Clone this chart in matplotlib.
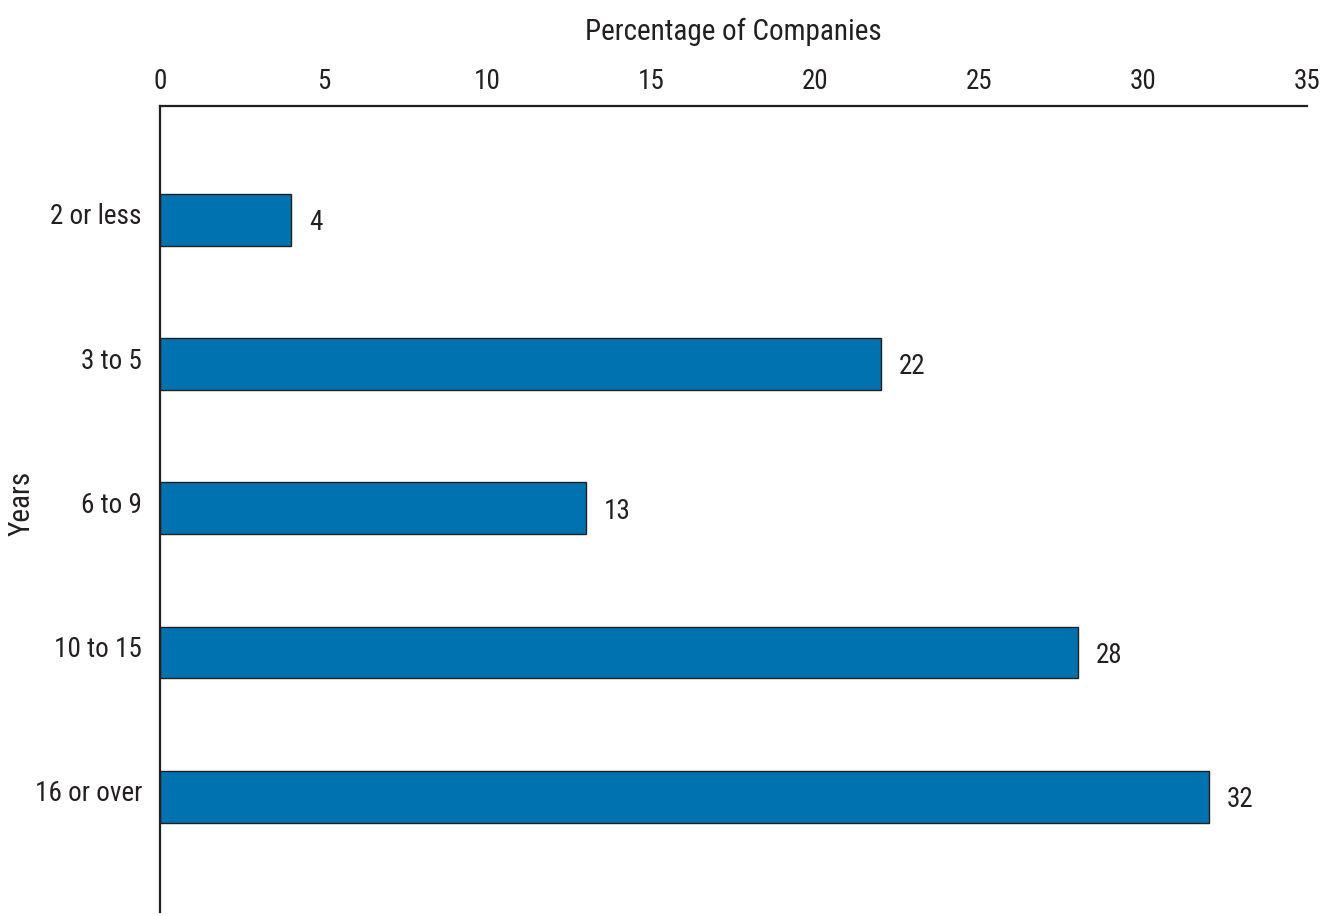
import matplotlib
matplotlib.use("Agg")
import matplotlib.pyplot as plt
from matplotlib import font_manager
from matplotlib.transforms import ScaledTranslation

categories = ["2 or less", "3 to 5", "6 to 9", "10 to 15", "16 or over"]
percentages = [4, 22, 13, 28, 32]
x_ticks = [0, 5, 10, 15, 20, 25, 30, 35]


def pick_condensed_font():
    """Return a narrow regular font file if one is installed, else None."""
    prefs = ["robotocondensed", "liberationsansnarrow", "dejavusanscondensed",
             "opensanscondensed", "notosanscondensed"]
    found = {}
    for f in font_manager.fontManager.ttflist:
        base = f.fname.replace("\\", "/").split("/")[-1].lower()
        key = base.replace("-", "").replace("_", "").replace(" ", "")
        if f.style != "normal" or f.weight not in (400, "normal", "regular"):
            continue
        for p in prefs:
            if key.startswith(p) and ("bold" not in key and "italic" not in key
                                      and "oblique" not in key and "light" not in key):
                found.setdefault(p, f.fname)
    for p in prefs:
        if p in found:
            return found[p]
    return None


narrow_file = pick_condensed_font()
if narrow_file:
    font_manager.fontManager.addfont(narrow_file)
    fam = font_manager.FontProperties(fname=narrow_file).get_name()
    plt.rcParams["font.family"] = [fam, "DejaVu Sans"]
    plt.rcParams["font.stretch"] = "condensed"
    size_scale = 1.0
else:
    plt.rcParams["font.family"] = ["DejaVu Sans"]
    size_scale = 0.8

bar_color = "#0072B0"
ink = "#231F20"
fs = 19.5 * size_scale
fs_title = 21 * size_scale

fig = plt.figure(figsize=(13.35, 9.16), dpi=100)
ax = fig.add_axes([160 / 1335, 4 / 916, (1307 - 160) / 1335, (912 - 106) / 916])

ypos = list(range(len(categories)))
ax.barh(ypos, percentages, height=0.36, color=bar_color,
        edgecolor=ink, linewidth=1.0)

for y, v in zip(ypos, percentages):
    ax.annotate(f"{v}", xy=(v, y), xytext=(13, -2), textcoords="offset points",
                va="center", ha="left", fontsize=fs, color=ink)

ax.set_xlim(0, 35)
ax.set_ylim(4.8, -0.79)
ax.set_yticks(ypos)
ax.set_yticklabels(categories, fontsize=fs, color=ink)
ax.set_xticks(x_ticks)
ax.set_xticklabels([str(t) for t in x_ticks], fontsize=fs, color=ink)

ax.xaxis.tick_top()
ax.xaxis.set_label_position("top")
ax.tick_params(axis="both", length=0)
ax.tick_params(axis="x", pad=8)
ax.tick_params(axis="y", pad=13)

# category labels sit a little above the bar centres
lift = ScaledTranslation(0, 6 / 100, fig.dpi_scale_trans)
for lbl in ax.get_yticklabels():
    lbl.set_transform(lbl.get_transform() + lift)

for side in ("right", "bottom"):
    ax.spines[side].set_visible(False)
for side in ("top", "left"):
    ax.spines[side].set_color(ink)
    ax.spines[side].set_linewidth(1.6)

ax.set_xlabel("Percentage of Companies", fontsize=fs_title, color=ink, labelpad=20)
fig.text(22 / 1335, 1 - 503 / 916, "Years", rotation=90, fontsize=fs_title,
         color=ink, ha="center", va="center")

fig.savefig("out.png", dpi=100, facecolor="white")
